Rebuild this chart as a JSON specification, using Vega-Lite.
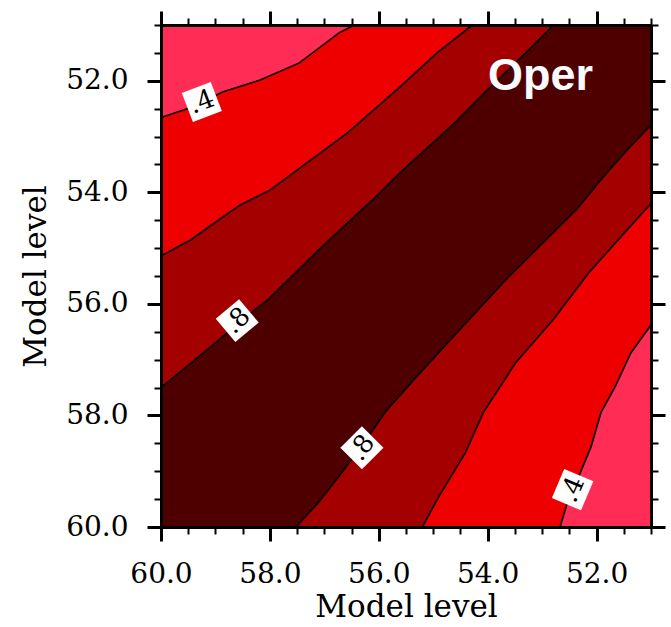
{
  "$schema": "https://vega.github.io/schema/vega-lite/v6.json",
  "width": 490,
  "height": 502,
  "autosize": "none",
  "padding": {"left": 161, "top": 25, "right": 20, "bottom": 100},
  "config": {"view": {"stroke": null}},
  "datasets": {
    "bands": [
      {"p":"P1","l":"a","o":1,"x":56.45,"y":51},{"p":"P1","l":"a","o":2,"x":56.73,"y":51.14},{"p":"P1","l":"a","o":3,"x":57.46,"y":51.68},{"p":"P1","l":"a","o":4,"x":58.19,"y":51.99},{"p":"P1","l":"a","o":5,"x":58.87,"y":52.2},{"p":"P1","l":"a","o":6,"x":59.42,"y":52.47},{"p":"P1","l":"a","o":7,"x":60,"y":52.66},{"p":"P1","l":"a","o":8,"x":60,"y":51},

      {"p":"P2","l":"b","o":1,"x":54.28,"y":51},{"p":"P2","l":"b","o":2,"x":54.93,"y":51.5},{"p":"P2","l":"b","o":3,"x":55.61,"y":52.11},{"p":"P2","l":"b","o":4,"x":56.58,"y":52.94},{"p":"P2","l":"b","o":5,"x":57.5,"y":53.6},{"p":"P2","l":"b","o":6,"x":58.0,"y":53.96},{"p":"P2","l":"b","o":7,"x":58.55,"y":54.23},{"p":"P2","l":"b","o":8,"x":58.95,"y":54.5},{"p":"P2","l":"b","o":9,"x":59.45,"y":54.85},{"p":"P2","l":"b","o":10,"x":60,"y":55.14},
      {"p":"P2","l":"b","o":11,"x":60,"y":52.66},{"p":"P2","l":"b","o":12,"x":59.42,"y":52.47},{"p":"P2","l":"b","o":13,"x":58.87,"y":52.2},{"p":"P2","l":"b","o":14,"x":58.19,"y":51.99},{"p":"P2","l":"b","o":15,"x":57.46,"y":51.68},{"p":"P2","l":"b","o":16,"x":56.73,"y":51.14},{"p":"P2","l":"b","o":17,"x":56.45,"y":51},

      {"p":"P3","l":"c","o":1,"x":52.79,"y":51},{"p":"P3","l":"c","o":2,"x":53.3,"y":51.5},{"p":"P3","l":"c","o":3,"x":53.95,"y":52.11},{"p":"P3","l":"c","o":4,"x":54.6,"y":52.75},{"p":"P3","l":"c","o":5,"x":55.61,"y":53.65},{"p":"P3","l":"c","o":6,"x":56.13,"y":54.15},{"p":"P3","l":"c","o":7,"x":57.08,"y":55.01},{"p":"P3","l":"c","o":8,"x":58.02,"y":55.91},{"p":"P3","l":"c","o":9,"x":58.55,"y":56.32},{"p":"P3","l":"c","o":10,"x":59.0,"y":56.7},{"p":"P3","l":"c","o":11,"x":59.5,"y":57.1},{"p":"P3","l":"c","o":12,"x":60,"y":57.5},
      {"p":"P3","l":"c","o":13,"x":60,"y":55.14},{"p":"P3","l":"c","o":14,"x":59.45,"y":54.85},{"p":"P3","l":"c","o":15,"x":58.95,"y":54.5},{"p":"P3","l":"c","o":16,"x":58.55,"y":54.23},{"p":"P3","l":"c","o":17,"x":58.0,"y":53.96},{"p":"P3","l":"c","o":18,"x":57.5,"y":53.6},{"p":"P3","l":"c","o":19,"x":56.58,"y":52.94},{"p":"P3","l":"c","o":20,"x":55.61,"y":52.11},{"p":"P3","l":"c","o":21,"x":54.93,"y":51.5},{"p":"P3","l":"c","o":22,"x":54.28,"y":51},

      {"p":"P4","l":"d","o":1,"x":52.79,"y":51},{"p":"P4","l":"d","o":2,"x":53.3,"y":51.5},{"p":"P4","l":"d","o":3,"x":53.95,"y":52.11},{"p":"P4","l":"d","o":4,"x":54.6,"y":52.75},{"p":"P4","l":"d","o":5,"x":55.61,"y":53.65},{"p":"P4","l":"d","o":6,"x":56.13,"y":54.15},{"p":"P4","l":"d","o":7,"x":57.08,"y":55.01},{"p":"P4","l":"d","o":8,"x":58.02,"y":55.91},{"p":"P4","l":"d","o":9,"x":58.55,"y":56.32},{"p":"P4","l":"d","o":10,"x":59.0,"y":56.7},{"p":"P4","l":"d","o":11,"x":59.5,"y":57.1},{"p":"P4","l":"d","o":12,"x":60,"y":57.5},
      {"p":"P4","l":"d","o":13,"x":60,"y":60},
      {"p":"P4","l":"d","o":14,"x":57.52,"y":60},{"p":"P4","l":"d","o":15,"x":57.1,"y":59.55},{"p":"P4","l":"d","o":16,"x":56.7,"y":59.05},{"p":"P4","l":"d","o":17,"x":56.31,"y":58.55},{"p":"P4","l":"d","o":18,"x":55.85,"y":57.9},{"p":"P4","l":"d","o":19,"x":55.3,"y":57.3},{"p":"P4","l":"d","o":20,"x":54.7,"y":56.66},{"p":"P4","l":"d","o":21,"x":53.68,"y":55.58},{"p":"P4","l":"d","o":22,"x":53.0,"y":54.92},{"p":"P4","l":"d","o":23,"x":52.36,"y":54.3},{"p":"P4","l":"d","o":24,"x":51.9,"y":53.75},{"p":"P4","l":"d","o":25,"x":51.4,"y":53.2},{"p":"P4","l":"d","o":26,"x":51,"y":52.79},
      {"p":"P4","l":"d","o":27,"x":51,"y":51},

      {"p":"P5","l":"c","o":1,"x":51,"y":52.79},{"p":"P5","l":"c","o":2,"x":51.4,"y":53.2},{"p":"P5","l":"c","o":3,"x":51.9,"y":53.75},{"p":"P5","l":"c","o":4,"x":52.36,"y":54.3},{"p":"P5","l":"c","o":5,"x":53.0,"y":54.92},{"p":"P5","l":"c","o":6,"x":53.68,"y":55.58},{"p":"P5","l":"c","o":7,"x":54.7,"y":56.66},{"p":"P5","l":"c","o":8,"x":55.3,"y":57.3},{"p":"P5","l":"c","o":9,"x":55.85,"y":57.9},{"p":"P5","l":"c","o":10,"x":56.31,"y":58.55},{"p":"P5","l":"c","o":11,"x":56.7,"y":59.05},{"p":"P5","l":"c","o":12,"x":57.1,"y":59.55},{"p":"P5","l":"c","o":13,"x":57.52,"y":60},
      {"p":"P5","l":"c","o":14,"x":55.2,"y":60},{"p":"P5","l":"c","o":15,"x":54.9,"y":59.46},{"p":"P5","l":"c","o":16,"x":54.41,"y":58.67},{"p":"P5","l":"c","o":17,"x":54.08,"y":57.95},{"p":"P5","l":"c","o":18,"x":53.49,"y":57.06},{"p":"P5","l":"c","o":19,"x":52.8,"y":56.29},{"p":"P5","l":"c","o":20,"x":52.15,"y":55.45},{"p":"P5","l":"c","o":21,"x":51.62,"y":54.87},{"p":"P5","l":"c","o":22,"x":51,"y":54.2},

      {"p":"P6","l":"b","o":1,"x":51,"y":54.2},{"p":"P6","l":"b","o":2,"x":51.62,"y":54.87},{"p":"P6","l":"b","o":3,"x":52.15,"y":55.45},{"p":"P6","l":"b","o":4,"x":52.8,"y":56.29},{"p":"P6","l":"b","o":5,"x":53.49,"y":57.06},{"p":"P6","l":"b","o":6,"x":54.08,"y":57.95},{"p":"P6","l":"b","o":7,"x":54.41,"y":58.67},{"p":"P6","l":"b","o":8,"x":54.9,"y":59.46},{"p":"P6","l":"b","o":9,"x":55.2,"y":60},
      {"p":"P6","l":"b","o":10,"x":52.67,"y":60},{"p":"P6","l":"b","o":11,"x":52.52,"y":59.51},{"p":"P6","l":"b","o":12,"x":52.3,"y":59.03},{"p":"P6","l":"b","o":13,"x":52.1,"y":58.56},{"p":"P6","l":"b","o":14,"x":51.92,"y":57.95},{"p":"P6","l":"b","o":15,"x":51.66,"y":57.49},{"p":"P6","l":"b","o":16,"x":51.37,"y":56.88},{"p":"P6","l":"b","o":17,"x":51,"y":56.38},

      {"p":"P7","l":"a","o":1,"x":51,"y":56.38},{"p":"P7","l":"a","o":2,"x":51.37,"y":56.88},{"p":"P7","l":"a","o":3,"x":51.66,"y":57.49},{"p":"P7","l":"a","o":4,"x":51.92,"y":57.95},{"p":"P7","l":"a","o":5,"x":52.1,"y":58.56},{"p":"P7","l":"a","o":6,"x":52.3,"y":59.03},{"p":"P7","l":"a","o":7,"x":52.52,"y":59.51},{"p":"P7","l":"a","o":8,"x":52.67,"y":60},{"p":"P7","l":"a","o":9,"x":51,"y":60}
    ],
    "lines": [
      {"id":"A","o":1,"x":56.45,"y":51},{"id":"A","o":2,"x":56.73,"y":51.14},{"id":"A","o":3,"x":57.46,"y":51.68},{"id":"A","o":4,"x":58.19,"y":51.99},{"id":"A","o":5,"x":58.87,"y":52.2},{"id":"A","o":6,"x":59.42,"y":52.47},{"id":"A","o":7,"x":60,"y":52.66},
      {"id":"B","o":1,"x":54.28,"y":51},{"id":"B","o":2,"x":54.93,"y":51.5},{"id":"B","o":3,"x":55.61,"y":52.11},{"id":"B","o":4,"x":56.58,"y":52.94},{"id":"B","o":5,"x":57.5,"y":53.6},{"id":"B","o":6,"x":58.0,"y":53.96},{"id":"B","o":7,"x":58.55,"y":54.23},{"id":"B","o":8,"x":58.95,"y":54.5},{"id":"B","o":9,"x":59.45,"y":54.85},{"id":"B","o":10,"x":60,"y":55.14},
      {"id":"C","o":1,"x":52.79,"y":51},{"id":"C","o":2,"x":53.3,"y":51.5},{"id":"C","o":3,"x":53.95,"y":52.11},{"id":"C","o":4,"x":54.6,"y":52.75},{"id":"C","o":5,"x":55.61,"y":53.65},{"id":"C","o":6,"x":56.13,"y":54.15},{"id":"C","o":7,"x":57.08,"y":55.01},{"id":"C","o":8,"x":58.02,"y":55.91},{"id":"C","o":9,"x":58.55,"y":56.32},{"id":"C","o":10,"x":59.0,"y":56.7},{"id":"C","o":11,"x":59.5,"y":57.1},{"id":"C","o":12,"x":60,"y":57.5},
      {"id":"D","o":1,"x":51,"y":52.79},{"id":"D","o":2,"x":51.4,"y":53.2},{"id":"D","o":3,"x":51.9,"y":53.75},{"id":"D","o":4,"x":52.36,"y":54.3},{"id":"D","o":5,"x":53.0,"y":54.92},{"id":"D","o":6,"x":53.68,"y":55.58},{"id":"D","o":7,"x":54.7,"y":56.66},{"id":"D","o":8,"x":55.3,"y":57.3},{"id":"D","o":9,"x":55.85,"y":57.9},{"id":"D","o":10,"x":56.31,"y":58.55},{"id":"D","o":11,"x":56.7,"y":59.05},{"id":"D","o":12,"x":57.1,"y":59.55},{"id":"D","o":13,"x":57.52,"y":60},
      {"id":"E","o":1,"x":51,"y":54.2},{"id":"E","o":2,"x":51.62,"y":54.87},{"id":"E","o":3,"x":52.15,"y":55.45},{"id":"E","o":4,"x":52.8,"y":56.29},{"id":"E","o":5,"x":53.49,"y":57.06},{"id":"E","o":6,"x":54.08,"y":57.95},{"id":"E","o":7,"x":54.41,"y":58.67},{"id":"E","o":8,"x":54.9,"y":59.46},{"id":"E","o":9,"x":55.2,"y":60},
      {"id":"F","o":1,"x":51,"y":56.38},{"id":"F","o":2,"x":51.37,"y":56.88},{"id":"F","o":3,"x":51.66,"y":57.49},{"id":"F","o":4,"x":51.92,"y":57.95},{"id":"F","o":5,"x":52.1,"y":58.56},{"id":"F","o":6,"x":52.3,"y":59.03},{"id":"F","o":7,"x":52.52,"y":59.51},{"id":"F","o":8,"x":52.67,"y":60}
    ],
    "labels": [
      {"id":"a","text":".4","x":59.25,"y":52.38},
      {"id":"b","text":".8","x":58.6,"y":56.3},
      {"id":"c","text":".8","x":56.31,"y":58.58},
      {"id":"d","text":".4","x":52.44,"y":59.33}
    ],
    "tag": [{"text":"Oper","x":53.03,"y":52.17}]
  },
  "layer": [
    {
      "data": {"name": "bands"},
      "mark": {"type": "line", "strokeWidth": 1, "interpolate": "linear"},
      "encoding": {
        "x": {"field": "x", "type": "quantitative",
          "scale": {"domain": [60, 51], "nice": false, "zero": false},
          "axis": {"orient": "bottom", "values": [51,51.5,52,52.5,53,53.5,54,54.5,55,55.5,56,56.5,57,57.5,58,58.5,59,59.5,60],
            "labelExpr": "datum.value % 2 == 0 ? format(datum.value, '.1f') : ''",
            "tickSize": {"condition": {"test": "datum.value % 2 == 0", "value": 14}, "value": 7},
            "tickWidth": {"condition": {"test": "datum.value % 2 == 0", "value": 3}, "value": 2},
            "tickColor": "black", "domainColor": "black", "domainWidth": 3, "grid": false, "zindex": 1,
            "labelFont": "DejaVu Serif", "labelFontSize": 28, "labelColor": "black", "labelPadding": 19,
            "labelFlush": false, "labelOverlap": false,
            "title": "Model level", "titleFont": "DejaVu Serif", "titleFontSize": 31, "titleFontWeight": "normal", "titleColor": "black",
            "titleY": 80, "titleBaseline": "middle"}},
        "y": {"field": "y", "type": "quantitative",
          "scale": {"domain": [60, 51], "nice": false, "zero": false},
          "axis": {"orient": "left", "values": [51,51.5,52,52.5,53,53.5,54,54.5,55,55.5,56,56.5,57,57.5,58,58.5,59,59.5,60],
            "labelExpr": "datum.value % 2 == 0 ? format(datum.value, '.1f') : ''",
            "tickSize": {"condition": {"test": "datum.value % 2 == 0", "value": 14}, "value": 7},
            "tickWidth": {"condition": {"test": "datum.value % 2 == 0", "value": 3}, "value": 2},
            "tickColor": "black", "domainColor": "black", "domainWidth": 3, "grid": false, "zindex": 1,
            "labelFont": "DejaVu Serif", "labelFontSize": 28, "labelColor": "black", "labelPadding": 19,
            "labelFlush": false, "labelOverlap": false,
            "title": "Model level", "titleFont": "DejaVu Serif", "titleFontSize": 31, "titleFontWeight": "normal", "titleColor": "black",
            "titleX": -125, "titleBaseline": "middle", "titleAngle": -90}},
        "fill": {"field": "l", "type": "nominal", "legend": null,
          "scale": {"domain": ["a","b","c","d"], "range": ["#ff2d55","#ee0000","#a50000","#4e0000"]}},
        "stroke": {"field": "l", "type": "nominal", "legend": null,
          "scale": {"domain": ["a","b","c","d"], "range": ["#ff2d55","#ee0000","#a50000","#4e0000"]}},
        "detail": {"field": "p", "type": "nominal"},
        "order": {"field": "o", "type": "quantitative"}
      }
    },
    {
      "data": {"name": "lines"},
      "mark": {"type": "line", "color": "black", "strokeWidth": 1.6},
      "encoding": {
        "x": {"field": "x", "type": "quantitative",
          "axis": {"orient": "top", "values": [51,51.5,52,52.5,53,53.5,54,54.5,55,55.5,56,56.5,57,57.5,58,58.5,59,59.5,60],
            "labels": false, "title": null,
            "tickSize": {"condition": {"test": "datum.value % 2 == 0", "value": 14}, "value": 7},
            "tickWidth": {"condition": {"test": "datum.value % 2 == 0", "value": 3}, "value": 2},
            "tickColor": "black", "domainColor": "black", "domainWidth": 3, "grid": false, "zindex": 1}},
        "y": {"field": "y", "type": "quantitative",
          "axis": {"orient": "right", "values": [51,51.5,52,52.5,53,53.5,54,54.5,55,55.5,56,56.5,57,57.5,58,58.5,59,59.5,60],
            "labels": false, "title": null,
            "tickSize": {"condition": {"test": "datum.value % 2 == 0", "value": 14}, "value": 7},
            "tickWidth": {"condition": {"test": "datum.value % 2 == 0", "value": 3}, "value": 2},
            "tickColor": "black", "domainColor": "black", "domainWidth": 3, "grid": false, "zindex": 1}},
        "detail": {"field": "id", "type": "nominal"},
        "order": {"field": "o", "type": "quantitative"}
      }
    },
    {
      "data": {"name": "labels"},
      "transform": [{"filter": "datum.id == 'a'"}],
      "layer": [
        {"mark": {"type": "point", "shape": "square", "filled": true, "fill": "white", "opacity": 1, "size": 960, "angle": -21, "strokeWidth": 0}},
        {"mark": {"type": "text", "font": "DejaVu Serif", "fontSize": 26, "angle": -21, "align": "center", "baseline": "middle", "color": "black"},
         "encoding": {"text": {"field": "text"}}}
      ],
      "encoding": {
        "x": {"field": "x", "type": "quantitative", "axis": null},
        "y": {"field": "y", "type": "quantitative", "axis": null}
      }
    },
    {
      "data": {"name": "labels"},
      "transform": [{"filter": "datum.id == 'b'"}],
      "layer": [
        {"mark": {"type": "point", "shape": "square", "filled": true, "fill": "white", "opacity": 1, "size": 930, "angle": -40, "strokeWidth": 0}},
        {"mark": {"type": "text", "font": "DejaVu Serif", "fontSize": 26, "angle": -45, "align": "center", "baseline": "middle", "color": "black"},
         "encoding": {"text": {"field": "text"}}}
      ],
      "encoding": {
        "x": {"field": "x", "type": "quantitative", "axis": null},
        "y": {"field": "y", "type": "quantitative", "axis": null}
      }
    },
    {
      "data": {"name": "labels"},
      "transform": [{"filter": "datum.id == 'c'"}],
      "layer": [
        {"mark": {"type": "point", "shape": "square", "filled": true, "fill": "white", "opacity": 1, "size": 930, "angle": -45, "strokeWidth": 0}},
        {"mark": {"type": "text", "font": "DejaVu Serif", "fontSize": 26, "angle": -55, "align": "center", "baseline": "middle", "color": "black"},
         "encoding": {"text": {"field": "text"}}}
      ],
      "encoding": {
        "x": {"field": "x", "type": "quantitative", "axis": null},
        "y": {"field": "y", "type": "quantitative", "axis": null}
      }
    },
    {
      "data": {"name": "labels"},
      "transform": [{"filter": "datum.id == 'd'"}],
      "layer": [
        {"mark": {"type": "point", "shape": "square", "filled": true, "fill": "white", "opacity": 1, "size": 1000, "angle": -67, "strokeWidth": 0}},
        {"mark": {"type": "text", "font": "DejaVu Serif", "fontSize": 26, "angle": -67, "align": "center", "baseline": "middle", "color": "black"},
         "encoding": {"text": {"field": "text"}}}
      ],
      "encoding": {
        "x": {"field": "x", "type": "quantitative", "axis": null},
        "y": {"field": "y", "type": "quantitative", "axis": null}
      }
    },
    {
      "data": {"name": "tag"},
      "mark": {"type": "text", "font": "Liberation Sans", "fontWeight": "bold", "fontSize": 45, "align": "center", "baseline": "alphabetic", "color": "#f8fbff"},
      "encoding": {
        "x": {"field": "x", "type": "quantitative", "axis": null},
        "y": {"field": "y", "type": "quantitative", "axis": null},
        "text": {"field": "text"}
      }
    }
  ],
  "resolve": {"axis": {"x": "independent", "y": "independent"}}
}
